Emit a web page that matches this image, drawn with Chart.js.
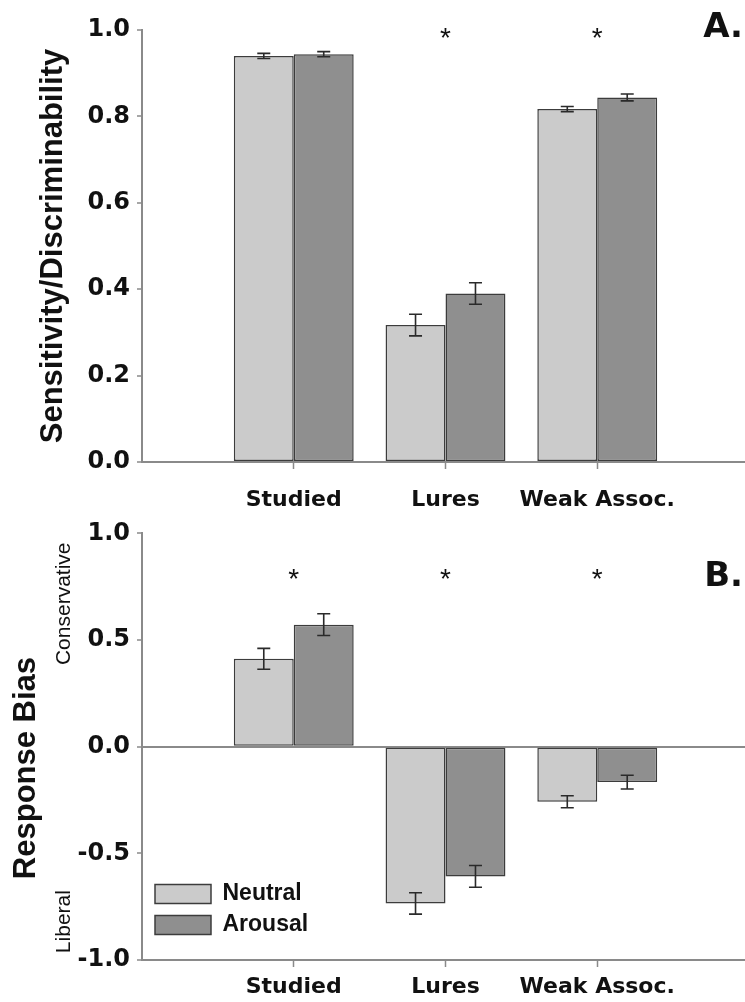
<!DOCTYPE html>
<html>
<head>
<meta charset="utf-8">
<script src="https://cdn.jsdelivr.net/npm/chart.js@4.4.1/dist/chart.umd.min.js"></script>
<style>
  body { margin: 0; background: #fff; overflow: hidden; width: 745px; height: 1002px; }
  #chartA { position: absolute; left: 0; top: 0; }
  #chartB { position: absolute; left: 0; top: 512px; }
</style>
</head>
<body>
<canvas id="chartA" width="750" height="512"></canvas>
<canvas id="chartB" width="750" height="490"></canvas>
<script>
// categories and groups
const categories = ['Studied', 'Lures', 'Weak Assoc.'];
const groups = ['Neutral', 'Arousal'];

// panel A: sensitivity / discriminability
const sensNeutral = [0.940, 0.317, 0.817];
const sensArousal = [0.944, 0.390, 0.844];
const sensNeutralErr = [0.006, 0.025, 0.006];
const sensArousalErr = [0.006, 0.025, 0.008];
const sensSig = [false, true, true];

// panel B: response bias
const biasNeutral = [0.412, -0.735, -0.258];
const biasArousal = [0.572, -0.608, -0.166];
const biasNeutralErr = [0.049, 0.050, 0.028];
const biasArousalErr = [0.051, 0.051, 0.032];
const biasSig = [true, true, true];

const sensTicks = { min: 0, max: 1, step: 0.2 };
const biasTicks = { min: -1, max: 1, step: 0.5 };

const neutralFill = '#cbcbcb';
const arousalFill = '#8f8f8f';
const edge = '#3c3c3c';
const axisGray = '#8a8a8a';
const ink = '#111';

// empty slot at each end, like the original axis
const labels = ['', ...categories, ''];
const pad = arr => [null, ...arr, null];

// error bars, stars and extra text
const annot = {
  id: 'annot',
  afterLayout(chart, args, o) {
    // nudge the inside legend a little right and down
    if (o.legendShift && chart.legend) {
      chart.legend.left += o.legendShift[0];
      chart.legend.top += o.legendShift[1];
      chart.legend.bottom += o.legendShift[1];
    }
  },
  afterDatasetsDraw(chart, args, o) {
    const ctx = chart.ctx, xs = chart.scales.x, ys = chart.scales.y;
    ctx.save();
    ctx.strokeStyle = '#2a2a2a';
    ctx.lineWidth = 1.6;
    chart.data.datasets.forEach((ds, di) => {
      chart.getDatasetMeta(di).data.forEach((bar, i) => {
        const v = ds.data[i];
        if (v == null) return;
        const e = ds.errors[i];
        const y1 = ys.getPixelForValue(v + e), y2 = ys.getPixelForValue(v - e);
        ctx.beginPath();
        ctx.moveTo(bar.x, y1); ctx.lineTo(bar.x, y2);
        ctx.moveTo(bar.x - 6.5, y1); ctx.lineTo(bar.x + 6.5, y1);
        ctx.moveTo(bar.x - 6.5, y2); ctx.lineTo(bar.x + 6.5, y2);
        ctx.stroke();
      });
    });

    ctx.fillStyle = ink;
    ctx.font = '28px "Liberation Sans"';
    ctx.textAlign = 'center';
    ctx.textBaseline = 'alphabetic';
    const m = ctx.measureText('*');
    o.sig.forEach((s, i) => {
      if (!s) return;
      const cy = ys.getPixelForValue(o.starLevel);
      const base = cy + (m.actualBoundingBoxAscent - m.actualBoundingBoxDescent) / 2;
      ctx.fillText('*', xs.getPixelForValue(i + 1), base);
    });

    ctx.font = 'bold 34px "DejaVu Sans"';
    ctx.textAlign = 'right';
    ctx.fillText(o.letter, 743, chart.chartArea.top + o.letterDy);

    (o.side || []).forEach(t => {
      ctx.save();
      ctx.font = t.font;
      ctx.textAlign = 'center';
      ctx.textBaseline = 'middle';
      ctx.translate(t.x, ys.getPixelForValue(t.value));
      ctx.rotate(-Math.PI / 2);
      ctx.fillText(t.text, 0, 0);
      ctx.restore();
    });
    ctx.restore();
  }
};

function makeChart(id, neutral, arousal, nErr, aErr, range, opts) {
  return new Chart(document.getElementById(id), {
    type: 'bar',
    data: {
      labels: labels,
      datasets: [{
        label: groups[0],
        data: pad(neutral),
        errors: pad(nErr),
        backgroundColor: neutralFill,
        borderColor: edge,
        borderWidth: 1.5,
        borderSkipped: false
      }, {
        label: groups[1],
        data: pad(arousal),
        errors: pad(aErr),
        backgroundColor: arousalFill,
        borderColor: edge,
        borderWidth: 1.5,
        borderSkipped: false
      }]
    },
    options: {
      responsive: false,
      animation: false,
      categoryPercentage: 0.79,
      barPercentage: 1,
      layout: { padding: { top: opts.top, right: 1, left: 0, bottom: 0 } },
      scales: {
        x: {
          offset: false,
          afterFit: s => { s.height = opts.xHeight; s.paddingLeft = 0; s.paddingRight = 0; },
          border: { display: true, color: axisGray, width: 2 },
          grid: {
            offset: false,
            drawOnChartArea: false,
            tickLength: 7,
            tickWidth: 1.5,
            tickColor: c => (c.index > 0 && c.index <= categories.length) ? axisGray : 'rgba(0,0,0,0)'
          },
          ticks: {
            padding: opts.xPad,
            maxRotation: 0,
            autoSkip: false,
            color: ink,
            font: { family: 'DejaVu Sans', weight: 'bold', size: 22 }
          }
        },
        y: {
          min: range.min,
          max: range.max,
          afterFit: s => { s.width = 142; },
          border: { display: true, color: axisGray, width: 2 },
          grid: {
            drawOnChartArea: opts.zeroLine,
            lineWidth: 2,
            color: c => c.tick.value === 0 ? axisGray : 'rgba(0,0,0,0)',
            tickColor: axisGray,
            tickLength: 5,
            tickWidth: 1.5
          },
          ticks: {
            stepSize: range.step,
            padding: 7,
            color: ink,
            font: { family: 'DejaVu Sans', weight: 'bold', size: 24 },
            callback: v => Number(v).toFixed(1)
          },
          title: opts.yTitle ? {
            display: true,
            text: opts.yTitle,
            color: ink,
            padding: { top: 35, bottom: 0 },
            font: { family: 'Liberation Sans', weight: 'bold', size: 31 }
          } : { display: false }
        }
      },
      plugins: {
        tooltip: { enabled: false },
        legend: opts.legend ? {
          display: true,
          position: 'chartArea',
          align: 'end',
          labels: {
            boxWidth: 56,
            boxHeight: 19,
            padding: 8,
            color: ink,
            font: { family: 'Liberation Sans', weight: 'bold', size: 23 }
          }
        } : { display: false },
        annot: opts.annot
      }
    },
    plugins: [annot]
  });
}

makeChart('chartA', sensNeutral, sensArousal, sensNeutralErr, sensArousalErr, sensTicks, {
  top: 30, xHeight: 50, xPad: 18, zeroLine: false, legend: false,
  yTitle: 'Sensitivity/Discriminability',
  annot: { sig: sensSig, starLevel: 0.992, letter: 'A.', letterDy: 7 }
});

makeChart('chartB', biasNeutral, biasArousal, biasNeutralErr, biasArousalErr, biasTicks, {
  top: 15, xHeight: 42, xPad: 7, zeroLine: true, legend: true,
  yTitle: null,
  annot: {
    sig: biasSig, starLevel: 0.808, letter: 'B.', letterDy: 53,
    legendShift: [5, 6],
    side: [
      { text: 'Response Bias', value: -0.10, x: 26, font: 'bold 31px "Liberation Sans"' },
      { text: 'Conservative', value: 0.67, x: 64, font: '21px "Liberation Sans"' },
      { text: 'Liberal', value: -0.82, x: 64, font: '21px "Liberation Sans"' }
    ]
  }
});
</script>
</body>
</html>
